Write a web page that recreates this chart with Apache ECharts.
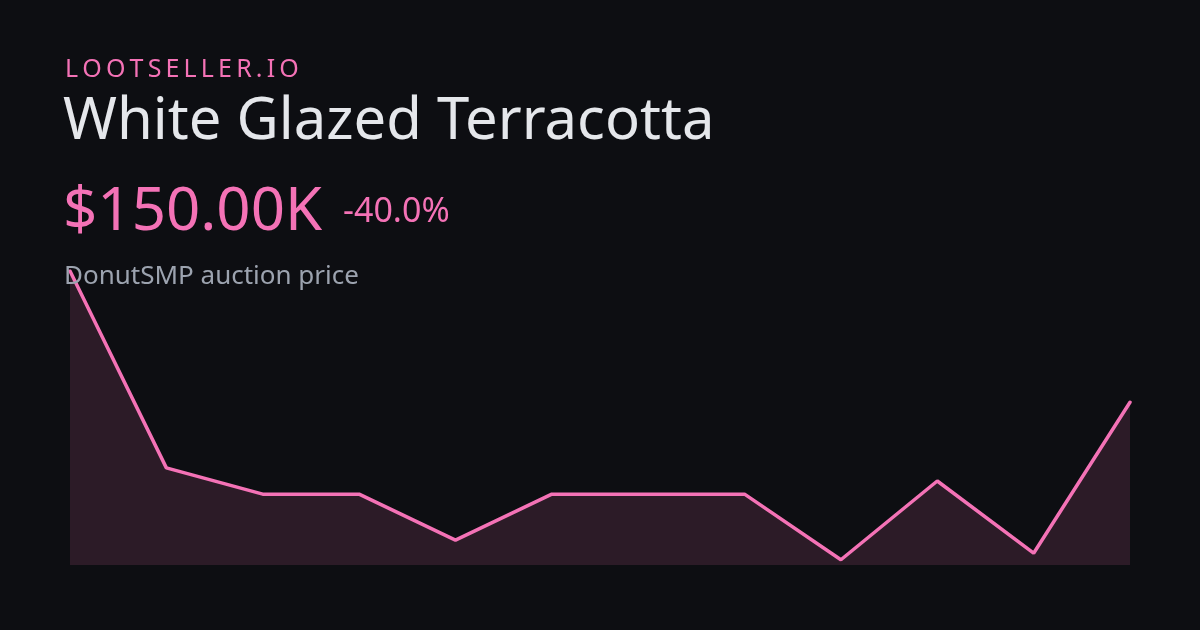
<!DOCTYPE html>
<html>
<head>
<meta charset="utf-8">
<script src="https://cdn.jsdelivr.net/npm/echarts@6/dist/echarts.min.js"></script>
<style>
  html, body { margin: 0; padding: 0; background: #0d0e12; }
  #chart { width: 1200px; height: 630px; }
</style>
</head>
<body>
<div id="chart"></div>
<script>
// ---- data ----
const brand = 'LOOTSELLER.IO';
const itemName = 'White Glazed Terracotta';
const subtitle = 'DonutSMP auction price';
const categories = ['1', '2', '3', '4', '5', '6', '7', '8', '9', '10', '11', '12'];
const prices = [250, 100, 80, 80, 45, 80, 80, 80, 30, 90, 35, 150]; // in thousands of $
const yRange = [26, 250];

// ---- derived text ----
const last = prices[prices.length - 1];
const first = prices[0];
const priceText = '$' + last.toFixed(2) + 'K';
const change = (last - first) / first * 100;
const changeText = (change >= 0 ? '+' : '') + change.toFixed(1) + '%';
const spacedBrand = brand.split('').join('\u2009');

const PINK = '#f472b6';
const FONT = '"Noto Sans", "Open Sans", sans-serif';

const chart = echarts.init(document.getElementById('chart'), null, { renderer: 'canvas' });
chart.setOption({
  backgroundColor: '#0d0e12',
  animation: false,
  grid: { left: 70, right: 70, top: 271, bottom: 65 },
  xAxis: {
    type: 'category',
    data: categories,
    boundaryGap: false,
    show: false
  },
  yAxis: {
    type: 'value',
    min: yRange[0],
    max: yRange[1],
    show: false
  },
  series: [{
    type: 'line',
    data: prices,
    symbol: 'none',
    lineStyle: { color: PINK, width: 3.5, cap: 'round' },
    areaStyle: { color: 'rgba(244,114,182,0.19)', origin: 'start' },
    z: 1
  }],
  graphic: [
    { type: 'text', left: 65, top: 57, z: 10,
      style: { text: spacedBrand, fill: PINK, font: '400 25px ' + FONT } },
    { type: 'text', left: 63, top: 93, z: 10,
      style: { text: itemName, fill: '#e5e7eb', font: '400 58px ' + FONT } },
    { type: 'text', left: 63, top: 183, z: 10,
      style: { text: priceText, fill: PINK, font: '400 60px ' + FONT } },
    { type: 'text', left: 343, top: 195, z: 10,
      style: { text: changeText, fill: PINK, font: '400 34px ' + FONT } },
    { type: 'text', left: 64, top: 264, z: 10,
      style: { text: subtitle, fill: '#9ca3af', font: '400 26px ' + FONT } }
  ]
});
</script>
</body>
</html>
